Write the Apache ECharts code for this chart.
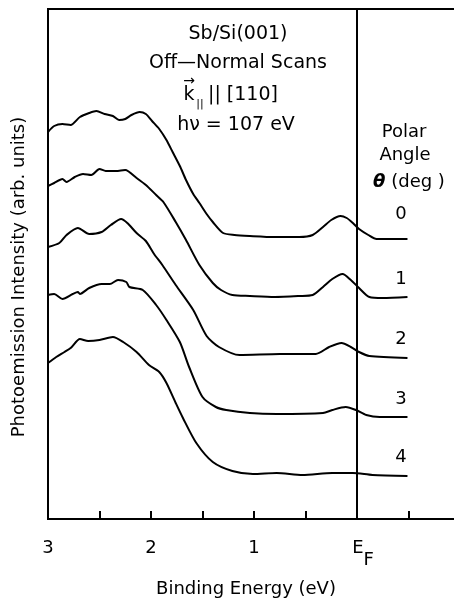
<!DOCTYPE html>
<html>
<head>
<meta charset="utf-8">
<script src="https://cdn.jsdelivr.net/npm/echarts@6/dist/echarts.min.js"></script>
<style>
  html, body { margin: 0; padding: 0; background: #fff; }
  #chart { width: 454px; height: 600px; }
</style>
</head>
<body>
<div id="chart"></div>
<script>
// spectra: [binding energy (eV), intensity (arb.)]
const scan0 = [[3.00,387],[2.94,393],[2.86,395],[2.78,394],[2.69,402],[2.60,406],[2.53,408],[2.45,405],[2.37,403],[2.31,399],[2.25,400],[2.19,404],[2.11,407],[2.05,405],[1.99,398],[1.92,390],[1.85,379],[1.79,367],[1.72,353],[1.66,339],[1.59,325],[1.53,316],[1.46,305],[1.40,297],[1.30,286],[1.19,284],[1.04,283],[0.80,282],[0.56,282],[0.43,284],[0.33,292],[0.25,299],[0.16,303],[0.10,301],[0.04,296],[-0.02,290],[-0.11,284],[-0.19,280],[-0.32,280],[-0.49,280]];
const scan1 = [[3.00,333],[2.94,336],[2.86,340],[2.82,337],[2.74,342],[2.66,345],[2.58,344],[2.50,350],[2.44,348],[2.34,348],[2.25,349],[2.14,341],[2.05,334],[1.95,324],[1.88,317],[1.76,297],[1.66,279],[1.53,254],[1.40,236],[1.32,229],[1.21,224],[1.04,223],[0.80,222],[0.56,223],[0.43,224],[0.33,232],[0.24,240],[0.14,245],[0.06,239],[-0.02,231],[-0.12,222],[-0.25,221],[-0.49,222]];
const scan2 = [[3.00,272],[2.89,276],[2.82,284],[2.71,291],[2.60,285],[2.48,287],[2.39,294],[2.29,300],[2.23,296],[2.14,286],[2.05,278],[1.97,265],[1.89,254],[1.76,234],[1.59,209],[1.46,183],[1.34,172],[1.14,164],[0.75,165],[0.40,165],[0.27,172],[0.15,176],[0.06,172],[-0.02,167],[-0.12,163],[-0.49,161]];
const scan3 = [[3.00,224],[2.94,225],[2.86,220],[2.76,225],[2.71,227],[2.69,225],[2.60,231],[2.48,235],[2.40,235],[2.32,239],[2.24,237],[2.21,232],[2.08,229],[1.95,214],[1.85,199],[1.72,177],[1.63,152],[1.50,122],[1.37,112],[1.27,109],[1.04,106],[0.78,105],[0.33,106],[0.24,109],[0.11,112],[0.01,109],[-0.09,104],[-0.22,102],[-0.49,102]];
const scan4 = [[3.00,156],[2.92,162],[2.84,167],[2.78,171],[2.69,180],[2.61,178],[2.50,179],[2.37,182],[2.27,177],[2.14,167],[2.02,154],[1.92,147],[1.85,136],[1.76,116],[1.69,101],[1.56,76],[1.40,57],[1.21,48],[1.01,45],[0.78,46],[0.53,44],[0.24,46],[0.04,46],[-0.15,44],[-0.49,43]];

const scans = [scan0, scan1, scan2, scan3, scan4];
const angles = ["0", "1", "2", "3", "4"];
const angleLabelY = [214, 279, 339, 399, 457];
const tickLabels = { "3": "3", "2": "2", "1": "1", "0": "{e|E}{f|F}" };

const font = "DejaVu Sans";
const chart = echarts.init(document.getElementById("chart"));

const series = scans.map((d, i) => ({
  name: "θ = " + angles[i],
  type: "line",
  data: d,
  showSymbol: false,
  smooth: 0.25,
  silent: true,
  lineStyle: { color: "#000", width: 2 },
  markLine: i === 0 ? {
    silent: true,
    symbol: "none",
    label: { show: false },
    lineStyle: { color: "#000", width: 1.5, type: "solid" },
    data: [{ xAxis: 0 }]
  } : undefined
}));

// title block and labels
const graphic = [
  { type: "text", x: 238, y: 34, style: { text: "Sb/Si(001)", font: "19px " + font, fill: "#000", align: "center", verticalAlign: "middle" } },
  { type: "text", x: 238, y: 63, style: { text: "Off\u2014Normal Scans", font: "19px " + font, fill: "#000", align: "center", verticalAlign: "middle" } },
  { type: "text", x: 189, y: 95, style: { text: "k", font: "19px " + font, fill: "#000", align: "center", verticalAlign: "middle" } },
  { type: "text", x: 189, y: 81, style: { text: "\u2192", font: "14px " + font, fill: "#000", align: "center", verticalAlign: "middle" } },
  { type: "text", x: 200, y: 104, style: { text: "||", font: "11px " + font, fill: "#000", align: "center", verticalAlign: "middle" } },
  { type: "text", x: 208, y: 95, style: { text: "|| [110]", font: "19px " + font, fill: "#000", align: "left", verticalAlign: "middle" } },
  { type: "text", x: 236, y: 125, style: { text: "h\u03bd = 107 eV", font: "19px " + font, fill: "#000", align: "center", verticalAlign: "middle" } },
  { type: "text", x: 404, y: 132, style: { text: "Polar", font: "18px " + font, fill: "#000", align: "center", verticalAlign: "middle" } },
  { type: "text", x: 405, y: 155, style: { text: "Angle", font: "18px " + font, fill: "#000", align: "center", verticalAlign: "middle" } },
  { type: "text", x: 409, y: 182, style: { text: "{t|\u03b8} (deg )", font: "18px " + font, fill: "#000", align: "center", verticalAlign: "middle",
      rich: { t: { fontFamily: font, fontSize: 18, fontStyle: "italic", fontWeight: "bold" } } } }
].concat(angles.map((a, i) => ({
  type: "text", x: 401, y: angleLabelY[i],
  style: { text: a, font: "18px " + font, fill: "#000", align: "center", verticalAlign: "middle" }
})));

chart.setOption({
  animation: false,
  backgroundColor: "#fff",
  // plot runs past the right edge of the page, so its right border is not seen
  grid: { left: 48, top: 9, width: 412, bottom: 81, outerBoundsMode: "none", show: true, borderColor: "#000", borderWidth: 2, backgroundColor: "transparent" },
  xAxis: {
    type: "value",
    inverse: true,
    min: -1,
    max: 3,
    interval: 0.5,
    name: "Binding Energy (eV)",
    nameLocation: "middle",
    nameGap: 61,
    nameTextStyle: { fontFamily: font, fontSize: 18, color: "#000", padding: [0, 16, 0, 0] },
    axisLine: { lineStyle: { color: "#000", width: 2 } },
    axisTick: { inside: true, length: 8, lineStyle: { color: "#000", width: 2 } },
    splitLine: { show: false },
    axisLabel: {
      margin: 20,
      fontFamily: font,
      fontSize: 18,
      color: "#000",
      formatter: v => tickLabels[String(v)] || "",
      rich: {
        e: { fontFamily: font, fontSize: 18, color: "#000", padding: [0, 0, 12, 12] },
        f: { fontFamily: font, fontSize: 18, color: "#000", padding: [12, 0, 0, 0] }
      }
    }
  },
  yAxis: {
    type: "value",
    min: 0,
    max: 510,
    name: "Photoemission Intensity (arb. units)",
    nameLocation: "middle",
    nameRotate: 90,
    nameGap: 20,
    nameTextStyle: { fontFamily: font, fontSize: 18, color: "#000", padding: [0, 26, 0, 0] },
    axisLine: { show: true, lineStyle: { color: "#000", width: 2 } },
    axisTick: { show: false },
    axisLabel: { show: false },
    splitLine: { show: false }
  },
  graphic: graphic,
  series: series
});
</script>
</body>
</html>
